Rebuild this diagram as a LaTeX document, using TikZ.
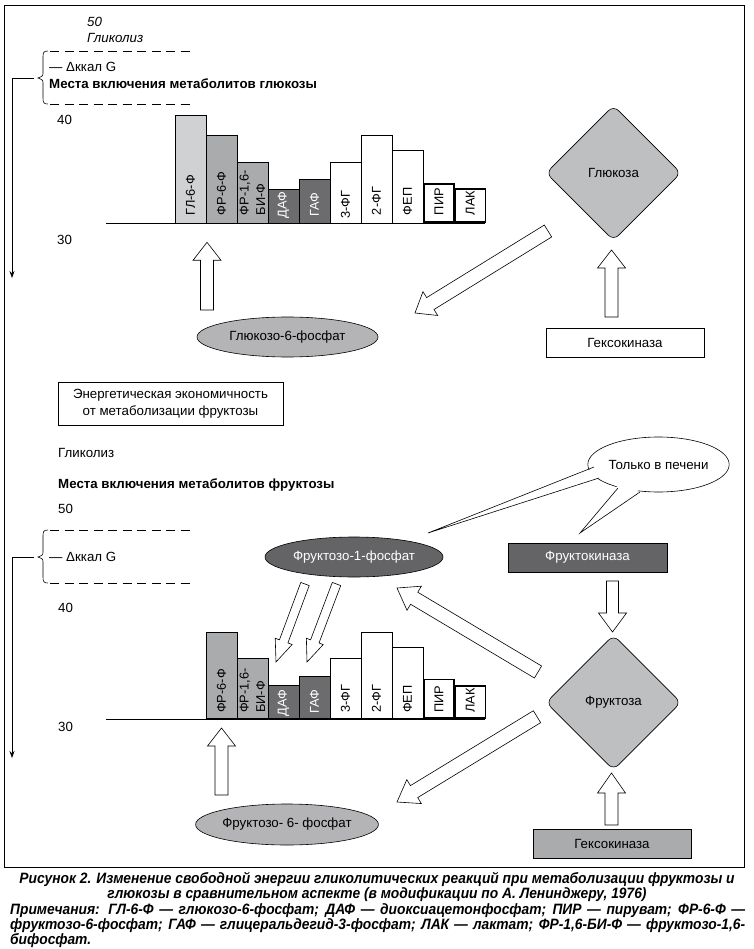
\documentclass[tikz,border=0pt]{standalone}
\usepackage{fontspec}
\setmainfont{Liberation Sans}
\newfontfamily\capfont[FakeStretch=0.92]{Liberation Sans}
\usetikzlibrary{calc,shapes.geometric,arrows.meta}

\definecolor{barlight}{RGB}{208,209,211}
\definecolor{barmid}{RGB}{170,171,173}
\definecolor{bardark}{RGB}{108,108,110}
\definecolor{diamondgray}{RGB}{190,191,193}
\definecolor{ellgray}{RGB}{180,180,182}
\definecolor{darkbox}{RGB}{100,100,102}

\newcommand\mainsize{\fontsize{13.3}{15}\selectfont}
\tikzset{
  blockarr/.style={draw=black, line width=0.6pt, fill=white, line join=miter},
  txt/.style={inner sep=0pt, font=\mainsize},
  bartxt/.style={inner sep=0pt, rotate=90, anchor=west, align=left, font=\fontsize{12.8}{14}\selectfont},
  barbox/.style={draw=black, line width=0.7pt, minimum width=31pt, anchor=south west, inner sep=0pt},
  thickbar/.style={barbox, line width=1.8pt},
  boxnode/.style={draw=black, line width=0.7pt, minimum width=158pt, minimum height=29pt, inner sep=0pt, font=\mainsize},
  ellnode/.style={ellipse, draw=black, line width=0.6pt, minimum width=181pt, minimum height=40pt, inner sep=0pt, font=\mainsize},
  dnode/.style={diamond, draw=black, line width=0.6pt, fill=diamondgray, rounded corners=7pt, minimum width=135pt, minimum height=135pt, inner sep=0pt, font=\mainsize},
  dashline/.style={line width=0.7pt, dash pattern=on 9pt off 5.5pt},
  capline/.style={inner sep=0pt, anchor=base, font=\capfont\bfseries\itshape\fontsize{15}{15}\selectfont}
}

\newcommand\myblockarrow[5]{%
  \coordinate (tmph) at ($(#2)!#5!(#1)$);
  \draw[blockarr] ($(#1)!#3!90:(#2)$) -- ($(tmph)!#3!90:(#2)$) -- ($(tmph)!#4!90:(#2)$) -- (#2) -- ($(tmph)!#4!-90:(#2)$) -- ($(tmph)!#3!-90:(#2)$) -- ($(#1)!#3!-90:(#2)$) -- cycle;}

\begin{document}
\begin{tikzpicture}[x=1pt,y=-1pt]
\useasboundingbox (0,0) rectangle (753,949);
\fill[white] (0,0) rectangle (753,949);
\draw[line width=0.8pt] (4,5) rectangle (744,867);

% ================= TOP PART =================
\node[txt, anchor=west, font=\itshape\mainsize] (t50) at (87,22) {50};
\node[txt, anchor=west, font=\itshape\mainsize] (tgly) at (87,38) {Гликолиз};
\draw[dashline] (50,51) -- (193,51);
\draw[dashline] (50,104) -- (193,104);
\draw[line width=0.6pt] (48,51) .. controls (43,51) and (43,53) .. (43,58) -- (43,72) .. controls (43,76) .. (38,78) .. controls (43,80) .. (43,84) -- (43,98) .. controls (43,103) and (44,104) .. (48,104);
\node[txt, anchor=west] (tdg) at (49,67) {— Δккал G};
\node[txt, anchor=west, font=\bfseries\mainsize] (tmesta) at (49,84) {Места включения метаболитов глюкозы};
\node[txt, anchor=west] (t40) at (57,120) {40};
\node[txt, anchor=west] (t30) at (57,240) {30};
\coordinate (tbr) at (34,78);
\coordinate (tcorner) at (12,78);
\coordinate (tend) at (12,278);
\draw[line width=0.8pt, -{Stealth[length=7pt,width=5pt]}] (tbr) -- (tcorner) -- (tend);

% bars top
\draw[line width=0.9pt] (106,223.3) -- (485,223.3);
\node[barbox, fill=barlight, minimum height=107.6pt] (b1) at (174.5,223.3) {};
\node[barbox, fill=barmid, minimum height=87.3pt] (b2) at (205.5,223.3) {};
\node[barbox, fill=barmid, minimum height=61pt] (b3) at (236.5,223.3) {};
\node[barbox, fill=bardark, minimum height=33.3pt] (b4) at (267.5,223.3) {};
\node[barbox, fill=bardark, minimum height=43.3pt] (b5) at (298.5,223.3) {};
\node[barbox, fill=white, minimum height=61pt] (b6) at (329.5,223.3) {};
\node[barbox, fill=white, minimum height=87.3pt] (b7) at (360.5,223.3) {};
\node[barbox, fill=white, minimum height=72.3pt] (b8) at (391.5,223.3) {};
\node[thickbar, fill=white, minimum height=38.3pt, minimum width=30pt] (b9) at (423,223.3) {};
\node[thickbar, fill=white, minimum height=33pt, minimum width=30.5pt] (b10) at (454,223.3) {};
\node[bartxt] at ($(b1.south)+(0,-8)$) {ГЛ-6-Ф};
\node[bartxt] at ($(b2.south)+(0,-8)$) {ФР-6-Ф};
\node[bartxt, font=\fontsize{12.8}{16.5}\selectfont] at ($(b3.south)+(0,-8)$) {ФР-1,6-\\БИ-Ф};
\node[bartxt, text=white] at ($(b4.south)+(0,-4.5)$) {ДАФ};
\node[bartxt, text=white] at ($(b5.south)+(0,-6.5)$) {ГАФ};
\node[bartxt] at ($(b6.south)+(0,-4.5)$) {3-ФГ};
\node[bartxt] at ($(b7.south)+(0,-8)$) {2-ФГ};
\node[bartxt] at ($(b8.south)+(0,-8)$) {ФЕП};
\node[bartxt] at ($(b9.south)+(0,-8)$) {ПИР};
\node[bartxt] at ($(b10.south)+(0,-8)$) {ЛАК};

% glucose part
\node[dnode] (glc) at (613.5,173) {Глюкоза};
\node[boxnode, fill=white] (hex1) at (625,342.5) {Гексокиназа};
\node[ellnode, fill=ellgray] (g6p) at (287.5,337) {Глюкозо-6-фосфат};
\coordinate (a1s) at (207,310);
\coordinate (a1e) at (207,242.3);
\myblockarrow{a1s}{a1e}{6.5pt}{14pt}{18pt}
\coordinate (a2s) at (611.5,317);
\coordinate (a2e) at (611.5,250);
\myblockarrow{a2s}{a2e}{6.5pt}{14pt}{18pt}
\coordinate (a3s) at (548,231);
\coordinate (a3e) at (415,313);
\myblockarrow{a3s}{a3e}{7pt}{14pt}{18pt}

\node[draw=black, line width=0.7pt, minimum width=225pt, minimum height=43pt, inner sep=0pt, align=center, font=\fontsize{13.3}{17}\selectfont] (econ) at (170.5,403.5) {Энергетическая экономичность\\от метаболизации фруктозы};

% ================= BOTTOM PART =================
\node[txt, anchor=west] (bgly) at (58,453) {Гликолиз};
\node[txt, anchor=west, font=\bfseries\mainsize] (bmesta) at (58,485) {Места включения метаболитов фруктозы};
\node[txt, anchor=west] (b50) at (58,509) {50};
\draw[dashline] (50,530) -- (193,530);
\draw[dashline] (50,583) -- (193,583);
\draw[line width=0.6pt] (48,530) .. controls (43,530) and (43,532) .. (43,537) -- (43,551) .. controls (43,555) .. (38,557) .. controls (43,559) .. (43,563) -- (43,577) .. controls (43,582) and (44,583) .. (48,583);
\node[txt, anchor=west] (bdg) at (49,557) {— Δккал G};
\node[txt, anchor=west] (b40) at (58,608) {40};
\node[txt, anchor=west] (b30) at (58,727) {30};
\coordinate (bbr) at (34,557);
\coordinate (bcorner) at (12,557);
\coordinate (bend) at (12,758);
\draw[line width=0.8pt, -{Stealth[length=7pt,width=5pt]}] (bbr) -- (bcorner) -- (bend);

% bars bottom
\draw[line width=0.9pt] (106,719) -- (485,719);
\node[barbox, fill=barmid, minimum height=86.7pt] (c2) at (205.5,719) {};
\node[barbox, fill=barmid, minimum height=60.7pt] (c3) at (236.5,719) {};
\node[barbox, fill=bardark, minimum height=33pt] (c4) at (267.5,719) {};
\node[barbox, fill=bardark, minimum height=42.7pt] (c5) at (298.5,719) {};
\node[barbox, fill=white, minimum height=60.7pt] (c6) at (329.5,719) {};
\node[barbox, fill=white, minimum height=86.7pt] (c7) at (360.5,719) {};
\node[barbox, fill=white, minimum height=71.7pt] (c8) at (391.5,719) {};
\node[thickbar, fill=white, minimum height=38.7pt, minimum width=30pt] (c9) at (423,719) {};
\node[thickbar, fill=white, minimum height=32.3pt, minimum width=30.5pt] (c10) at (454,719) {};
\node[bartxt] at ($(c2.south)+(0,-6)$) {ФР-6-Ф};
\node[bartxt, font=\fontsize{12.8}{16.5}\selectfont] at ($(c3.south)+(0,-6)$) {ФР-1,6-\\БИ-Ф};
\node[bartxt, text=white] at ($(c4.south)+(0,-2.5)$) {ДАФ};
\node[bartxt, text=white] at ($(c5.south)+(0,-5)$) {ГАФ};
\node[bartxt] at ($(c6.south)+(0,-6)$) {3-ФГ};
\node[bartxt] at ($(c7.south)+(0,-6)$) {2-ФГ};
\node[bartxt] at ($(c8.south)+(0,-6)$) {ФЕП};
\node[bartxt] at ($(c9.south)+(0,-6)$) {ПИР};
\node[bartxt] at ($(c10.south)+(0,-6)$) {ЛАК};

% fructose part
\node[ellnode, fill=darkbox, text=white, minimum width=178pt] (f1p) at (354,557) {Фруктозо-1-фосфат};
\node[boxnode, fill=darkbox, text=white, minimum width=159pt] (fk) at (587.5,557.5) {Фруктокиназа};
\node[dnode] (fru) at (613.5,702.5) {Фруктоза};
\node[boxnode, fill=barmid] (hex2) at (612,844) {Гексокиназа};
\node[ellnode, fill=ellgray, minimum width=180pt, minimum height=41pt] (f6p) at (287,824.5) {Фруктозо- 6- фосфат};

% callout
\node[ellipse, draw=black, line width=0.6pt, fill=white, minimum width=133pt, minimum height=55pt, inner sep=0pt, font=\mainsize] (liver) at (658.5,464.5) {Только в печени};
\coordinate (w1a) at (594,467);
\coordinate (w1b) at (599,478);
\coordinate (w1t) at (428,533);
\coordinate (w2a) at (618,488);
\coordinate (w2b) at (640,492);
\coordinate (w2t) at (580,533);
\fill[white] ($(w1a)+(3,0)$) -- (w1t) -- ($(w1b)+(3,-1)$) -- cycle;
\fill[white] ($(w2a)+(0,-3)$) -- (w2t) -- ($(w2b)+(0,-3)$) -- cycle;
\draw[line width=0.6pt] (w1a) -- (w1t) -- (w1b);
\draw[line width=0.6pt] (w2a) -- (w2t) -- (w2b);

% block arrows bottom
\coordinate (a4s) at (612.5,581);
\coordinate (a4e) at (612.5,632);
\myblockarrow{a4s}{a4e}{6pt}{14pt}{19pt}
\coordinate (a5s) at (611.5,825);
\coordinate (a5e) at (611.5,773);
\myblockarrow{a5s}{a5e}{6.5pt}{14pt}{20pt}
\coordinate (a6s) at (538,672);
\coordinate (a6e) at (397,588);
\myblockarrow{a6s}{a6e}{7pt}{14pt}{20pt}
\coordinate (a7s) at (537,716.7);
\coordinate (a7e) at (397,802);
\myblockarrow{a7s}{a7e}{7pt}{14pt}{20pt}
\coordinate (a8s) at (221.5,795);
\coordinate (a8e) at (221.5,728);
\myblockarrow{a8s}{a8e}{6.5pt}{14pt}{18pt}
\coordinate (a9s) at (305,584);
\coordinate (a9e) at (276,662);
\myblockarrow{a9s}{a9e}{4.5pt}{9pt}{22pt}
\coordinate (a10s) at (336.5,584);
\coordinate (a10e) at (307,662);
\myblockarrow{a10s}{a10e}{4.5pt}{9pt}{22pt}

% ================= CAPTION =================
\node[capline] (cap1) at (377,883) {Рисунок 2. Изменение свободной энергии гликолитических реакций при метаболизации фруктозы и};
\node[capline] (cap2) at (377,898) {глюкозы в сравнительном аспекте (в модификации по А. Ленинджеру, 1976)};
\node[capline, anchor=base west] (cap3) at (10,914) {\makebox[735pt][s]{Примечания: ГЛ-6-Ф — глюкозо-6-фосфат; ДАФ — диоксиацетонфосфат; ПИР — пируват; ФР-6-Ф —}};
\node[capline, anchor=base west] (cap4) at (10,929) {\makebox[735pt][s]{фруктозо-6-фосфат; ГАФ — глицеральдегид-3-фосфат; ЛАК — лактат; ФР-1,6-БИ-Ф — фруктозо-1,6-}};
\node[capline, anchor=base west] (cap5) at (10,944) {бифосфат.};
\end{tikzpicture}
\end{document}
